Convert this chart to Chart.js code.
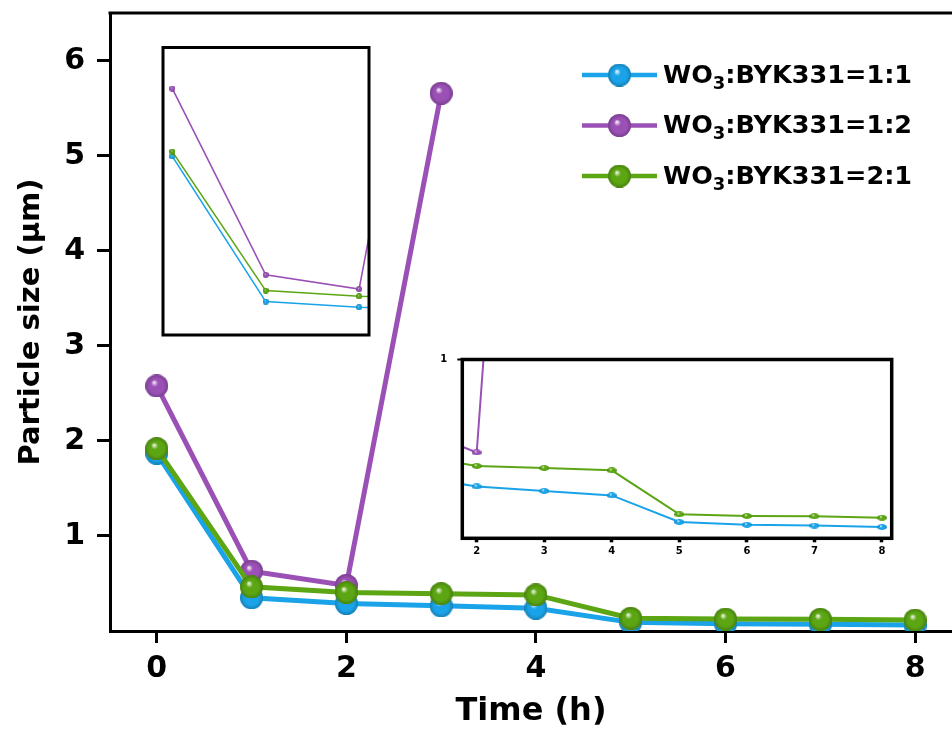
<!DOCTYPE html>
<html>
<head>
<meta charset="utf-8">
<script src="https://cdn.jsdelivr.net/npm/chart.js@4.4.0/dist/chart.umd.min.js"></script>
<style>
    html, body { margin: 0; padding: 0; background: #fff; }
    #boxGrafico { position: relative; width: 952px; height: 731px; overflow: hidden; }
    #boxGrafico canvas { position: absolute; }
    #graficoPrincipal { left: 0; top: 0; }
    #graficoInicio { left: 150px; top: 35px; }
    #graficoFinal { left: 430px; top: 345px; }
</style>
</head>
<body>
<div id="boxGrafico">
    <canvas id="graficoPrincipal" width="952" height="731"></canvas>
    <canvas id="graficoInicio" width="232" height="312"></canvas>
    <canvas id="graficoFinal" width="475" height="220"></canvas>
</div>
<script>
// Tempo de moagem (h) e tamanho de partícula (µm) para cada proporção
const tempoH = [0, 1, 2, 3, 4, 5, 6, 7, 8];
const tamanho11 = [1.87, 0.35, 0.29, 0.265, 0.24, 0.091, 0.076, 0.071, 0.063];
const tamanho12 = [2.58, 0.63, 0.48, 5.66];
const tamanho21 = [1.92, 0.465, 0.405, 0.393, 0.38, 0.134, 0.125, 0.123, 0.115];

const rotulos = ['WO₃:BYK331=1:1', 'WO₃:BYK331=1:2', 'WO₃:BYK331=2:1'];
const cores = ['#1aa3e8', '#9a50b5', '#5ca513'];
const ordem = [2, 1, 0]; // verde por cima, azul por baixo

// Ticks de cada eixo
const ticksX = [0, 2, 4, 6, 8];
const ticksY = [1, 2, 3, 4, 5, 6];
const ticksXFinal = [2, 3, 4, 5, 6, 7, 8];
const ticksYFinal = [1];

const fonte = 'DejaVu Sans';
Chart.defaults.font.family = fonte;
Chart.defaults.color = '#000';

// Bolinha com brilho usada como marcador
function criarBola(cor, w, h) {
    const c = document.createElement('canvas');
    c.width = w;
    c.height = h;
    const g = c.getContext('2d');
    g.beginPath();
    g.ellipse(w / 2, h / 2, w / 2, h / 2, 0, 0, Math.PI * 2);
    const grad = g.createRadialGradient(w * 0.38, h * 0.34, 0, w * 0.5, h * 0.5, Math.max(w, h) * 0.55);
    grad.addColorStop(0, '#ffffff');
    grad.addColorStop(0.28, cor);
    grad.addColorStop(1, cor);
    g.fillStyle = grad;
    g.fill();
    const sombra = g.createRadialGradient(w / 2, h / 2, 0, w / 2, h / 2, Math.max(w, h) / 2);
    sombra.addColorStop(0.65, 'rgba(0,0,0,0)');
    sombra.addColorStop(1, 'rgba(0,0,0,0.22)');
    g.fillStyle = sombra;
    g.fill();
    return c;
}

function pontos(serie) {
    return serie.map((v, i) => ({ x: tempoH[i], y: v }));
}

function montarSeries(espessura, w, h) {
    return [tamanho11, tamanho12, tamanho21].map((serie, i) => ({
        label: rotulos[i],
        data: pontos(serie),
        borderColor: cores[i],
        backgroundColor: cores[i],
        borderWidth: espessura,
        pointStyle: criarBola(cores[i], w, h),
        pointRadius: Math.max(w, h) / 2,
        tension: 0,
        order: ordem[i]
    }));
}

// Moldura preta em volta da área do gráfico
const moldura = {
    id: 'moldura',
    beforeDatasetsDraw(chart) {
        const { ctx, chartArea: a } = chart;
        ctx.save();
        ctx.fillStyle = '#fff';
        ctx.fillRect(a.left, a.top, a.right - a.left, a.bottom - a.top);
        ctx.restore();
    },
    afterDraw(chart, args, opts) {
        const { ctx, chartArea: a } = chart;
        ctx.save();
        ctx.strokeStyle = '#000';
        ctx.lineWidth = opts.largura;
        ctx.strokeRect(a.left, a.top, a.right - a.left, a.bottom - a.top);
        ctx.restore();
    }
};

// Linha superior do gráfico principal
const linhaTopo = {
    id: 'linhaTopo',
    afterDraw(chart) {
        const { ctx, chartArea: a } = chart;
        ctx.save();
        ctx.strokeStyle = '#000';
        ctx.lineWidth = 3;
        ctx.beginPath();
        ctx.moveTo(a.left - 1.5, a.top);
        ctx.lineTo(a.right, a.top);
        ctx.stroke();
        ctx.restore();
    }
};

// Legenda com linha + bolinha e o "3" subscrito
const legendaBolas = {
    id: 'legendaBolas',
    afterDraw(chart, args, o) {
        const ctx = chart.ctx;
        chart.data.datasets.forEach((ds, i) => {
            const y = o.topo + i * o.passo;
            const bola = ds.pointStyle;
            ctx.save();
            ctx.strokeStyle = ds.borderColor;
            ctx.lineWidth = 4.5;
            ctx.beginPath();
            ctx.moveTo(o.x, y);
            ctx.lineTo(o.x + o.linha, y);
            ctx.stroke();
            ctx.drawImage(bola, o.x + o.linha / 2 - bola.width / 2, y - bola.height / 2);

            const [antes, depois] = ds.label.split('₃');
            let tx = o.x + o.linha + 6;
            ctx.fillStyle = '#000';
            ctx.textBaseline = 'middle';
            ctx.font = `bold ${o.tamanho}px "${fonte}"`;
            ctx.fillText(antes, tx, y + 1);
            tx += ctx.measureText(antes).width;
            ctx.font = `bold ${Math.round(o.tamanho * 0.7)}px "${fonte}"`;
            ctx.fillText('3', tx, y + 9);
            tx += ctx.measureText('3').width;
            ctx.font = `bold ${o.tamanho}px "${fonte}"`;
            ctx.fillText(depois, tx, y + 1);
            ctx.restore();
        });
    }
};

const ctxPrincipal = document.getElementById('graficoPrincipal');
const graficoPrincipal = new Chart(ctxPrincipal, {
    type: 'line',
    data: { datasets: montarSeries(5, 23, 23) },
    options: {
        responsive: false,
        animation: false,
        events: [],
        layout: { autoPadding: false, padding: { left: 0, top: 13, right: 0, bottom: 0 } },
        scales: {
            x: {
                type: 'linear',
                min: -0.493,
                max: 8.389,
                afterBuildTicks: (s) => { s.ticks = ticksX.map(v => ({ value: v })); },
                afterFit: (s) => { s.height = 100; s.paddingLeft = 0; s.paddingRight = 0; },
                grid: { display: true, drawOnChartArea: false, tickLength: 12, tickWidth: 3, tickColor: '#000', color: '#000' },
                border: { display: true, width: 3, color: '#000' },
                ticks: { font: { size: 30, weight: 'bold' }, padding: 8, maxRotation: 0, autoSkip: false },
                title: { display: true, text: 'Time (h)', font: { size: 32, weight: 'bold' }, padding: { top: 0, bottom: 0 } }
            },
            y: {
                type: 'linear',
                min: 0,
                max: 6.505,
                afterBuildTicks: (s) => { s.ticks = ticksY.map(v => ({ value: v })); },
                afterFit: (s) => { s.width = 110; s.paddingTop = 0; s.paddingBottom = 0; },
                grid: { display: true, drawOnChartArea: false, tickLength: 13, tickWidth: 3, tickColor: '#000', color: '#000' },
                border: { display: true, width: 3, color: '#000' },
                ticks: { font: { size: 30, weight: 'bold' }, padding: 12 },
                title: { display: true, text: 'Particle size (μm)', font: { size: 29, weight: 'bold' }, padding: { top: 14, bottom: 0 } }
            }
        },
        plugins: {
            legend: { display: false },
            tooltip: { enabled: false },
            legendaBolas: { x: 582, linha: 75, topo: 75, passo: 50.5, tamanho: 25.5 }
        }
    },
    plugins: [linhaTopo, legendaBolas]
});

// Detalhe das primeiras horas (0 a 2 h)
const ctxInicio = document.getElementById('graficoInicio');
const graficoInicio = new Chart(ctxInicio, {
    type: 'line',
    data: { datasets: montarSeries(1.6, 6, 6) },
    options: {
        responsive: false,
        animation: false,
        events: [],
        layout: { autoPadding: false, padding: { left: 13, top: 12.5, right: 13, bottom: 12 } },
        scales: {
            x: { type: 'linear', display: false, min: -0.1, max: 2.106 },
            y: { type: 'linear', display: false, min: 0, max: 3.01 }
        },
        plugins: {
            legend: { display: false },
            tooltip: { enabled: false },
            moldura: { largura: 3 }
        }
    },
    plugins: [moldura]
});

// Detalhe do final da moagem (2 a 8 h)
const ctxFinal = document.getElementById('graficoFinal');
const graficoFinal = new Chart(ctxFinal, {
    type: 'line',
    data: { datasets: montarSeries(2, 10, 6) },
    options: {
        responsive: false,
        animation: false,
        events: [],
        layout: { autoPadding: false, padding: { left: 0, top: 14.5, right: 13.3, bottom: 0 } },
        scales: {
            x: {
                type: 'linear',
                min: 1.787,
                max: 8.144,
                afterBuildTicks: (s) => { s.ticks = ticksXFinal.map(v => ({ value: v })); },
                afterFit: (s) => { s.height = 26.7; s.paddingLeft = 0; s.paddingRight = 0; },
                grid: { display: true, drawOnChartArea: false, tickLength: 4, tickWidth: 3.5, tickColor: '#000', color: '#000' },
                border: { display: false },
                ticks: { font: { size: 10, weight: 'bold' }, padding: 3, maxRotation: 0, autoSkip: false }
            },
            y: {
                type: 'linear',
                min: 0,
                max: 1,
                afterBuildTicks: (s) => { s.ticks = ticksYFinal.map(v => ({ value: v })); },
                afterFit: (s) => { s.width = 32.3; s.paddingTop = 0; s.paddingBottom = 0; },
                grid: { display: true, drawOnChartArea: false, tickLength: 5, tickWidth: 2, tickColor: '#000', color: '#000' },
                border: { display: false },
                ticks: { font: { size: 10, weight: 'bold' }, padding: 10 }
            }
        },
        plugins: {
            legend: { display: false },
            tooltip: { enabled: false },
            moldura: { largura: 3.5 }
        }
    },
    plugins: [moldura]
});
</script>
</body>
</html>
